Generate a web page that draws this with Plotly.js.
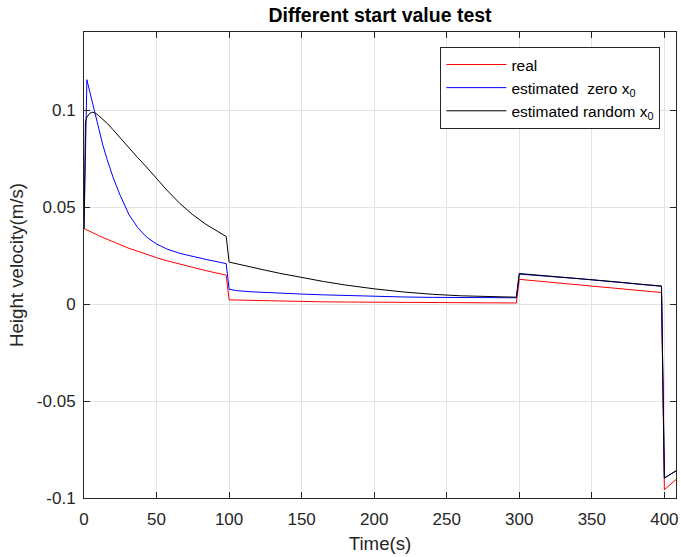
<!DOCTYPE html>
<html>
<head>
<meta charset="utf-8">
<script src="https://cdn.plot.ly/plotly-3.0.1.min.js"></script>
<style>html,body{margin:0;padding:0;background:#fff;}#chart{width:681px;height:557px;}</style>
</head>
<body>
<div id="chart"></div>
<script>
// Time samples (s)
const time = [0, 1, 2, 4, 6, 8, 10, 13, 16, 20, 25, 31, 37, 43, 50, 57, 66, 75, 84, 91, 98,
  100, 105, 115, 125, 135, 150, 165, 180, 200, 220, 240, 260, 280, 298,
  300, 310, 325, 340, 355, 370, 385, 398, 400, 408];

// Height velocity (m/s)
const realVel = [0.039, 0.0386, 0.0382, 0.0375, 0.0368, 0.0361, 0.0354, 0.0344, 0.0334, 0.0321, 0.0306, 0.0288, 0.0273, 0.0257, 0.0240, 0.0224, 0.0206, 0.0189, 0.0173, 0.0161, 0.0150,
  0.0022, 0.0021, 0.0019, 0.0017, 0.0016, 0.0014, 0.0012, 0.0011, 0.0010, 0.0009, 0.0008, 0.0007, 0.0007, 0.0006,
  0.0128, 0.0121, 0.0112, 0.0102, 0.0092, 0.0082, 0.0071, 0.0060, -0.0957, -0.0905];

const zeroStartVel = [0.039, 0.077, 0.1158, 0.1095, 0.1030, 0.0965, 0.0905, 0.0820, 0.0745, 0.0655, 0.0560, 0.0462, 0.0395, 0.0347, 0.0310, 0.0285, 0.0262, 0.0245, 0.0231, 0.0220, 0.0209,
  0.0077, 0.0070, 0.0064, 0.0060, 0.0057, 0.0052, 0.0048, 0.0044, 0.0040, 0.0037, 0.0035, 0.0034, 0.0033, 0.0033,
  0.0155, 0.0150, 0.0141, 0.0132, 0.0122, 0.0111, 0.0100, 0.0092, -0.0897, -0.086];

const randomStartVel = [0.039, 0.094, 0.0965, 0.0985, 0.0990, 0.0985, 0.0973, 0.0955, 0.0933, 0.0900, 0.0857, 0.0805, 0.0756, 0.0708, 0.0648, 0.0589, 0.0520, 0.0461, 0.0412, 0.0379, 0.0349,
  0.0217, 0.0208, 0.0191, 0.0175, 0.0159, 0.0137, 0.0117, 0.0099, 0.0079, 0.0063, 0.0051, 0.0043, 0.0038, 0.0036,
  0.0158, 0.0152, 0.0143, 0.0134, 0.0124, 0.0113, 0.0102, 0.0094, -0.0897, -0.086];

const seriesNames = ['real', 'estimated\u00A0\u00A0zero x<sub>0</sub>', 'estimated random x<sub>0</sub>'];
const seriesColors = ['#ff0000', '#0000ff', '#000000'];

const xTickVals = [0, 50, 100, 150, 200, 250, 300, 350, 400];
const xTickText = ['0', '50', '100', '150', '200', '250', '300', '350', '400'];
const yTickVals = [-0.1, -0.05, 0, 0.05, 0.1];
const yTickText = ['-0.1', '-0.05', '0', '0.05', '0.1'];

const FONT = 'Liberation Sans, Arial, Helvetica, sans-serif';
const AX = '#262626';

const ys = [realVel, zeroStartVel, randomStartVel];
const traces = ys.map((y, i) => ({
  x: time, y: y, type: 'scatter', mode: 'lines', name: seriesNames[i],
  line: {color: seriesColors[i], width: 1}
}));

const axisCommon = {
  showline: true, mirror: 'ticks', linecolor: AX, linewidth: 1,
  ticks: 'inside', ticklen: 6, tickcolor: AX, tickwidth: 1,
  showgrid: true, gridcolor: '#e3e3e3', gridwidth: 1, zeroline: false,
  tickfont: {family: FONT, size: 17, color: AX}
};

const layout = {
  width: 681, height: 557,
  margin: {l: 84, r: 5, t: 32, b: 59},
  paper_bgcolor: '#ffffff', plot_bgcolor: '#ffffff',
  font: {family: FONT, color: AX},
  title: {text: '<b>Different start value test</b>', font: {family: FONT, size: 19.5, color: '#000000'},
    x: 0.558, xref: 'container', xanchor: 'center', y: 0.972, yref: 'container', yanchor: 'middle'},
  xaxis: Object.assign({}, axisCommon, {
    range: [0, 408], tickmode: 'array', tickvals: xTickVals, ticktext: xTickText,
    ticklabelstandoff: 6,
    title: {text: 'Time(s)', font: {family: FONT, size: 18.7, color: AX}, standoff: 8}
  }),
  yaxis: Object.assign({}, axisCommon, {
    range: [-0.1, 0.1404], tickmode: 'array', tickvals: yTickVals, ticktext: yTickText,
    ticklabelstandoff: 4,
    title: {text: 'Height velocity(m/s)', font: {family: FONT, size: 18.7, color: AX}, standoff: 8}
  }),
  showlegend: true,
  legend: {
    x: 0.602, y: 0.968, xanchor: 'left', yanchor: 'top',
    bgcolor: '#ffffff', bordercolor: AX, borderwidth: 1,
    font: {family: FONT, size: 15.5, color: '#000000'},
    itemwidth: 60, tracegroupgap: 0
  }
};

Plotly.newPlot('chart', traces, layout, {displayModeBar: false, staticPlot: true});
</script>
</body>
</html>
